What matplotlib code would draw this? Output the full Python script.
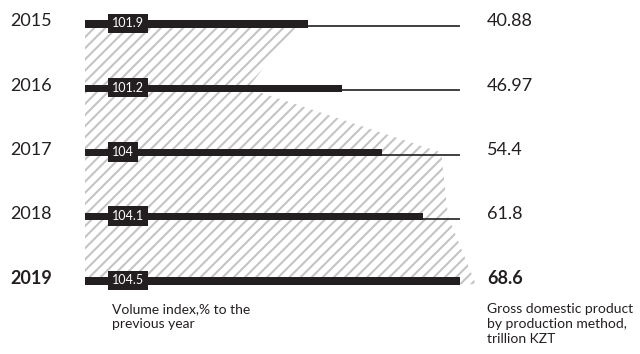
import matplotlib.pyplot as plt
from matplotlib.transforms import blended_transform_factory

# data
years = ["2015", "2016", "2017", "2018", "2019"]
volume_index = [101.9, 101.2, 104, 104.1, 104.5]
gdp = [40.88, 46.97, 54.4, 61.8, 68.6]
index_caption = "Volume index,% to the\nprevious year"
gdp_caption = "Gross domestic product\nby production method,\ntrillion KZT"

plt.rcParams["font.family"] = ["Lato", "DejaVu Sans"]
plt.rcParams["hatch.linewidth"] = 1.5
ink = "#231f20"

fig = plt.figure(figsize=(6.4, 3.54), dpi=100)
ax = fig.add_axes([85 / 640, 0, 415 / 640, 1])
rows = list(range(len(years)))

# gdp scale: 68.6 lands at x=460px
ax.set_xlim(0, 75.92)
ax.set_ylim(5.136, -0.3735)
ax.set_axis_off()

# volume index wedge on its own x scale
axi = ax.twiny()
axi.set_xlim(98.85, 104.85)
axi.set_ylim(5.136, -0.3735)
axi.set_axis_off()
last = rows[-1]
px = [98.85] + volume_index + [98.85]
py = [0.05] + [0.05] + rows[1:-1] + [last + 0.05, last + 0.05]
axi.fill(px, py, facecolor="none", edgecolor="#c4c4c4", linewidth=0,
         hatch="///", zorder=1)
ax.set_zorder(axi.get_zorder() + 1)
ax.patch.set_visible(False)

# thin full-scale lines and thick gdp bars
ax.hlines([r + 0.035 for r in rows], 0, max(gdp), color=ink, lw=1.2, zorder=2)
ax.barh(rows, gdp, height=0.11, color=ink, zorder=3)

for r, v in zip(rows, volume_index):
    ax.text(4.94, r - 0.01, f"{v:g}", color="white", fontsize=9,
            ha="left", va="center", zorder=4,
            bbox=dict(boxstyle="square,pad=0.3", fc=ink, ec="none"))

tr = blended_transform_factory(fig.transFigure, ax.transData)
for r, y, g in zip(rows, years, gdp):
    wt = "bold" if r == last else "normal"
    ax.text(10 / 640, r - 0.04, y, transform=tr, fontsize=13, color=ink,
            ha="left", va="center", fontweight=wt)
    ax.text(487 / 640, r - 0.04, f"{g:g}", transform=tr, fontsize=13, color=ink,
            ha="left", va="center", fontweight=wt)

fig.text(112 / 640, 1 - 303 / 354, index_caption, fontsize=10, color=ink,
         ha="left", va="top", linespacing=1.3)
fig.text(487 / 640, 1 - 303 / 354, gdp_caption, fontsize=10, color=ink,
         ha="left", va="top", linespacing=1.3)

fig.savefig("out.png", dpi=100)
